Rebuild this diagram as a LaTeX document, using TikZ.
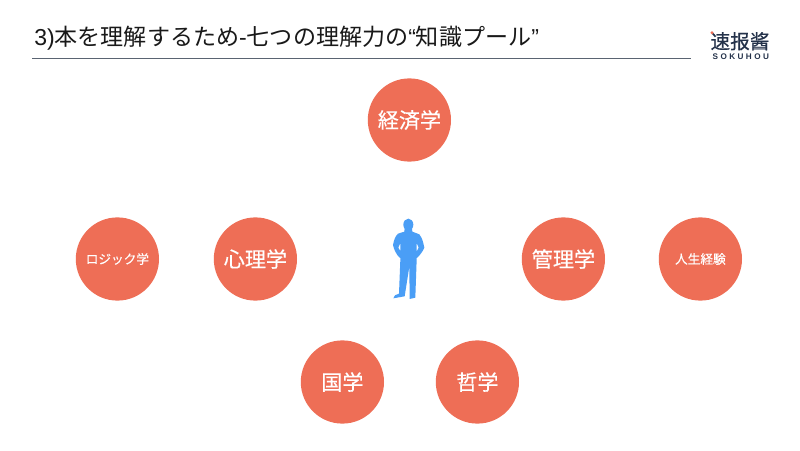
\documentclass[tikz,border=0pt]{standalone}
\usepackage{xcolor}
\usepackage{fontspec}
\setmainfont{Noto Sans CJK JP}
\newfontfamily\topicfont[FakeBold=.25]{Noto Sans CJK JP}
\newfontfamily\latinfont{Liberation Sans}
\newfontfamily\logofont[FakeBold=.5]{Noto Sans CJK SC}
\newfontfamily\logolatin[LetterSpace=30]{Liberation Sans}
\definecolor{topicred}{HTML}{EE6E56}
\definecolor{personblue}{HTML}{4A9EF6}
\definecolor{logonavy}{HTML}{24324A}
\definecolor{rulegray}{HTML}{5A6472}
\usetikzlibrary{positioning}

\begin{document}
\begin{tikzpicture}[
    topic/.style={circle,fill=topicred,text=white,minimum size=2.08cm,inner sep=0pt,font=\topicfont\fontsize{15}{15}\selectfont},
    smalltopic/.style={topic,font=\topicfont\fontsize{9}{9}\selectfont}]
    \useasboundingbox (0,0) rectangle (20,11.25);
    \fill[white] (0,0) rectangle (20,11.25);
    % title
    \node[anchor=west,inner sep=0pt,text=black!90,font=\fontsize{16.4}{16.4}\selectfont] (title) at (.85,10.29)
        {{\latinfont 3)}本を理解するため{\latinfont -}七つの理解力の{\latinfont “}知識プール{\latinfont ”}};
    \coordinate (ruleleft) at (.8,9.78);
    \coordinate (ruleright) at (17.28,9.78);
    \draw[rulegray,line width=.5pt] (ruleleft) -- (ruleright);
    % logo
    \node[inner sep=0pt,text=logonavy,font=\logofont\fontsize{14}{14}\selectfont] (logo) at (18.5,10.22) {速报酱};
    \node[inner sep=0pt,text=logonavy,font=\logolatin\bfseries\fontsize{5.8}{5.8}\selectfont] (sokuhou) at (18.52,9.83) {SOKUHOU};
    \fill[topicred] (17.8,10.43) circle (.04cm);
    % topics
    \node[topic] (keizai) at (10.235,8.25) {経済学};
    \node[smalltopic] (logic) at (2.935,4.775) {ロジック学};
    \node[topic] (shinri) at (6.385,4.775) {心理学};
    \node[topic] (kanri) at (14.085,4.775) {管理学};
    \node[smalltopic] (keiken) at (17.51,4.775) {人生経験};
    \node[topic] (kokugaku) at (8.56,1.7) {国学};
    \node[topic] (tetsugaku) at (11.935,1.7) {哲学};
    % person
    \begin{scope}[shift={(9.25,6.125)},x=.00833cm,y=-.00833cm]
        \fill[personblue] (115,59) ellipse (15 and 18);
        \fill[personblue] (104,70) -- (126,70) -- (127,80) -- (148,88)
            .. controls (158,100) and (160,115) .. (163,128)
            .. controls (158,140) and (150,150) .. (141,159)
            -- (134,151) -- (146,128) -- (140,114) -- (140,165)
            -- (136,278) -- (119,282) -- (118,185)
            -- (104,274) -- (70,280) -- (75,271) -- (87,266)
            -- (91,165) -- (91,114) -- (85,128) -- (98,150) -- (90,159)
            .. controls (80,150) and (72,135) .. (69,120)
            .. controls (72,105) and (75,95) .. (84,86)
            -- (103,80) -- cycle;
    \end{scope}
\end{tikzpicture}
\end{document}
